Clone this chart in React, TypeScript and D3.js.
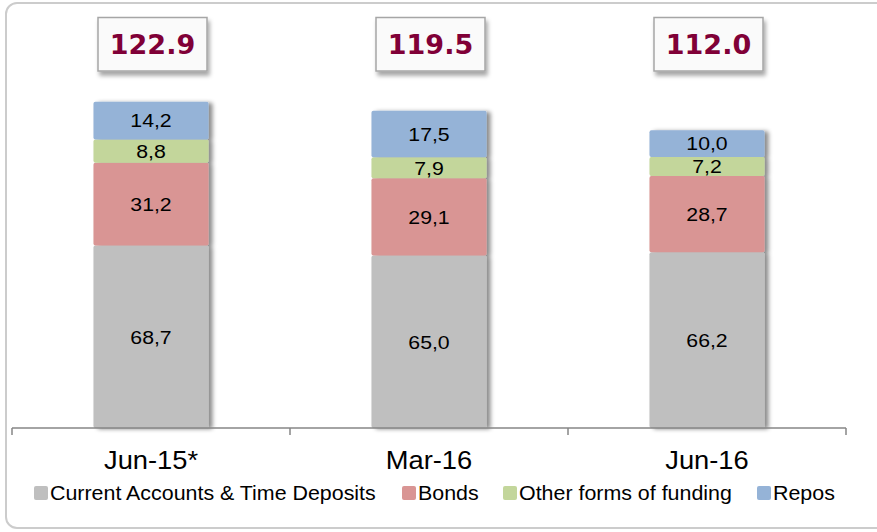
import React from 'react';
import * as d3 from 'd3';

// values (EUR bn)
const categories = ['Jun-15*', 'Mar-16', 'Jun-16'];
const totals = [122.9, 119.5, 112.0];
const deposits = [68.7, 65.0, 66.2];
const bonds = [31.2, 29.1, 28.7];
const otherFunding = [8.8, 7.9, 7.2];
const repos = [14.2, 17.5, 10.0];

const seriesKeys = ['deposits', 'bonds', 'other', 'repos'];
const seriesNames = ['Current Accounts & Time Deposits', 'Bonds', 'Other forms of funding', 'Repos'];
const seriesColors = ['#bfbfbf', '#d99594', '#c3d69b', '#95b3d7'];

const width = 877;
const height = 532;
const axisY = 428;

const commaFmt = d3.formatLocale({ decimal: ',', thousands: '.', grouping: [3], currency: ['', ''] }).format('.1f');
const dotFmt = d3.format('.1f');

const App: React.FC = () => {
  const rows = categories.map((c, i) => ({
    cat: c,
    deposits: deposits[i],
    bonds: bonds[i],
    other: otherFunding[i],
    repos: repos[i],
  }));
  const stacked = d3.stack<any>().keys(seriesKeys)(rows);

  const x = d3.scaleBand()
    .domain(categories)
    .range([12, 846])
    .paddingInner(0.586)
    .paddingOuter(0.293);

  const y = d3.scaleLinear()
    .domain([0, 130])
    .range([axisY, axisY - 130 * 2.655]);

  const band = x.step();
  const tickXs = d3.range(categories.length + 1).map(i => 12 + i * band);

  // legend layout
  const legendX = [34, 402, 503, 757];

  return (
    <svg width={width} height={height} style={{ position: 'absolute', left: 0, top: 0 }}
      fontFamily="Arial, 'Liberation Sans', sans-serif">
      <defs>
        <filter id="barShadow" x="-10%" y="-10%" width="130%" height="120%">
          <feDropShadow dx="4" dy="1" stdDeviation="2" floodColor="#000" floodOpacity="0.45" />
        </filter>
        <filter id="boxShadow" x="-10%" y="-10%" width="130%" height="140%">
          <feDropShadow dx="2" dy="4" stdDeviation="2" floodColor="#000" floodOpacity="0.35" />
        </filter>
      </defs>
      <rect x={6} y={3} width={width + 20} height={525} rx={11} fill="#fff" stroke="#cccccc" strokeWidth={2} />

      {/* bars */}
      {categories.map((c, ci) => (
        <g key={c} filter="url(#barShadow)">
          {stacked.map((s, si) => {
            const d = s[ci];
            return (
              <rect key={si} x={x(c)} y={y(d[1])} width={x.bandwidth()} height={y(d[0]) - y(d[1])}
                rx={2} fill={seriesColors[si]} />
            );
          })}
        </g>
      ))}

      {/* segment labels */}
      {stacked.map((s, si) => (
        <g key={'l' + si}>
          {s.map((d, ci) => (
            <text key={ci}
              transform={`translate(${(x(categories[ci]) as number) + x.bandwidth() / 2},${(y(d[0]) + y(d[1])) / 2}) scale(1.12,1)`}
              dy="0.36em" textAnchor="middle" fontSize={19} fill="#000">
              {commaFmt(d[1] - d[0])}
            </text>
          ))}
        </g>
      ))}

      {/* axis */}
      <g stroke="#868686" strokeWidth={1.5} fill="none">
        <line x1={12} x2={846} y1={axisY} y2={axisY} />
        {tickXs.map((tx, i) => (
          <line key={i} x1={tx} x2={tx} y1={axisY} y2={axisY + 7} />
        ))}
      </g>
      {categories.map(c => (
        <text key={c} transform={`translate(${(x(c) as number) + x.bandwidth() / 2},469) scale(1.05,1)`}
          textAnchor="middle" fontSize={26} fill="#000">
          {c}
        </text>
      ))}

      {/* total boxes */}
      {categories.map((c, i) => {
        const cx = (x(c) as number) + x.bandwidth() / 2 + 1.5;
        return (
          <g key={'t' + c}>
            <rect x={cx - 54.5} y={17.5} width={109} height={53.5} fill="#fafafa" stroke="#a6a6a6"
              strokeWidth={1.5} filter="url(#boxShadow)" />
            <text x={cx} y={44.5} dy="0.36em" textAnchor="middle" fontSize={27} fontWeight="bold"
              fontFamily="Verdana, 'DejaVu Sans', sans-serif" fill="#800037">
              {dotFmt(totals[i])}
            </text>
          </g>
        );
      })}

      {/* legend */}
      {seriesNames.map((n, i) => (
        <g key={n} transform={`translate(${legendX[i]},486)`}>
          <rect width={14} height={14} rx={2} fill={seriesColors[i]} />
          <text transform="translate(16,7) scale(1.07,1)" dy="0.36em" fontSize={20} fill="#000">{n}</text>
        </g>
      ))}
    </svg>
  );
};

export default App;
